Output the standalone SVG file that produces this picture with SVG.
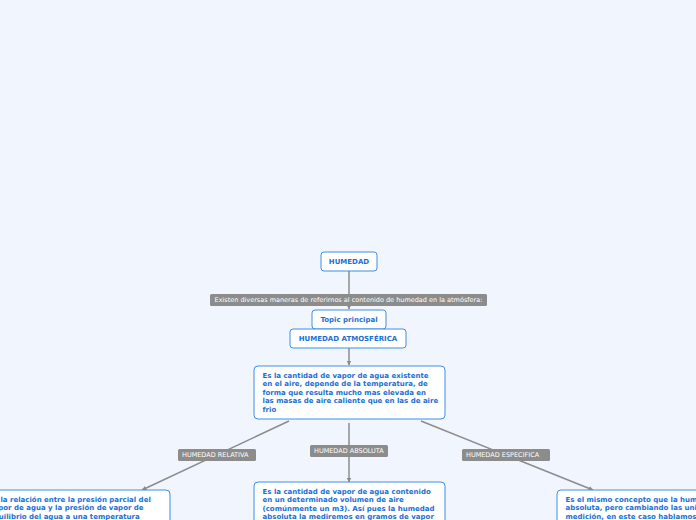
<svg xmlns="http://www.w3.org/2000/svg" width="696" height="520" viewBox="0 0 696 520">
<defs>
<style>
.node{fill:#ffffff;stroke:#3d8fe6;stroke-width:1}
.nt{font-family:"DejaVu Sans",Verdana,sans-serif;font-weight:bold;font-size:7px;fill:#1a6fd6}
.lbl{fill:#8c8c8c}
.lt{font-family:"DejaVu Sans",Verdana,sans-serif;font-size:6.5px;fill:#ffffff}
.con{stroke:#8c8c8c;stroke-width:1.5;fill:none}
</style>
<marker id="arr" viewBox="0 0 10 10" refX="9" refY="5" markerWidth="5" markerHeight="5" orient="auto" markerUnits="userSpaceOnUse">
<path d="M0,0 L10,5 L0,10 z" fill="#8c8c8c"/>
</marker>
</defs>
<rect width="696" height="520" fill="#f1f5fd"/>
<g id="connectors">
<line class="con" x1="349" y1="271" x2="349" y2="309" marker-end="url(#arr)"/>
<line class="con" x1="349" y1="348" x2="349" y2="365" marker-end="url(#arr)"/>
<line class="con" x1="289" y1="421" x2="142" y2="490" marker-end="url(#arr)"/>
<line class="con" x1="349" y1="423" x2="349" y2="482" marker-end="url(#arr)"/>
<line class="con" x1="421" y1="421" x2="593" y2="490" marker-end="url(#arr)"/>
<g id="label-existen">
<rect class="lbl" x="210" y="294" width="277" height="12" rx="1.5"/>
<text class="lt" x="348.5" y="302.3" text-anchor="middle">Existen diversas maneras de referirnos al contenido de humedad en la atmósfera:</text>
</g>
<g id="label-relativa">
<rect class="lbl" x="178" y="449" width="78" height="12" rx="1.5"/>
<text class="lt" x="182" y="457.3">HUMEDAD RELATIVA</text>
</g>
<g id="label-absoluta">
<rect class="lbl" x="310" y="445" width="78" height="12" rx="1.5"/>
<text class="lt" x="314" y="453.3">HUMEDAD ABSOLUTA</text>
</g>
<g id="label-especifica">
<rect class="lbl" x="462" y="449" width="88" height="12" rx="1.5"/>
<text class="lt" x="466" y="457.3">HUMEDAD ESPECIFICA</text>
</g>
</g>
<g id="humedad">
<rect class="node" x="321" y="252" width="56" height="19" rx="3"/>
<text class="nt" x="349" y="264.3" text-anchor="middle">HUMEDAD</text>
</g>
<g id="topic-principal">
<rect class="node" x="312" y="310" width="74" height="19" rx="3"/>
<text class="nt" x="349" y="322.3" text-anchor="middle">Topic principal</text>
</g>
<g id="humedad-atmosferica">
<rect class="node" x="290" y="329" width="116" height="19" rx="3"/>
<text class="nt" x="348" y="341.3" text-anchor="middle">HUMEDAD ATMOSFÉRICA</text>
</g>
<g id="desc-atmosferica">
<rect class="node" x="254" y="366" width="191" height="53" rx="4"/>
<text class="nt" x="262.5" y="377.5">Es la cantidad de vapor de agua existente</text>
<text class="nt" x="262.5" y="386">en el aire, depende de la temperatura, de</text>
<text class="nt" x="262.5" y="394.5">forma que resulta mucho mas elevada en</text>
<text class="nt" x="262.5" y="403">las masas de aire caliente que en las de aire</text>
<text class="nt" x="262.5" y="411.5">frio</text>
</g>
<g id="desc-relativa">
<rect class="node" x="-30" y="490" width="200" height="40" rx="4"/>
<text class="nt" x="-11" y="501.5">Es la relación entre la presión parcial del</text>
<text class="nt" x="-11" y="510">vapor de agua y la presión de vapor de</text>
<text class="nt" x="-11" y="518.5">equilibrio del agua a una temperatura</text>
</g>
<g id="desc-absoluta">
<rect class="node" x="254" y="482" width="191" height="48" rx="4"/>
<text class="nt" x="262.5" y="493.5">Es la cantidad de vapor de agua contenido</text>
<text class="nt" x="262.5" y="502">en un determinado volumen de aire</text>
<text class="nt" x="262.5" y="510.5">(comúnmente un m3). Así pues la humedad</text>
<text class="nt" x="262.5" y="519">absoluta la mediremos en gramos de vapor</text>
</g>
<g id="desc-especifica">
<rect class="node" x="557" y="490" width="180" height="40" rx="4"/>
<text class="nt" x="565.5" y="501.5">Es el mismo concepto que la humedad</text>
<text class="nt" x="565.5" y="510">absoluta, pero cambiando las unidades de</text>
<text class="nt" x="565.5" y="518.5">medición, en este caso hablamos de</text>
</g>
</svg>
